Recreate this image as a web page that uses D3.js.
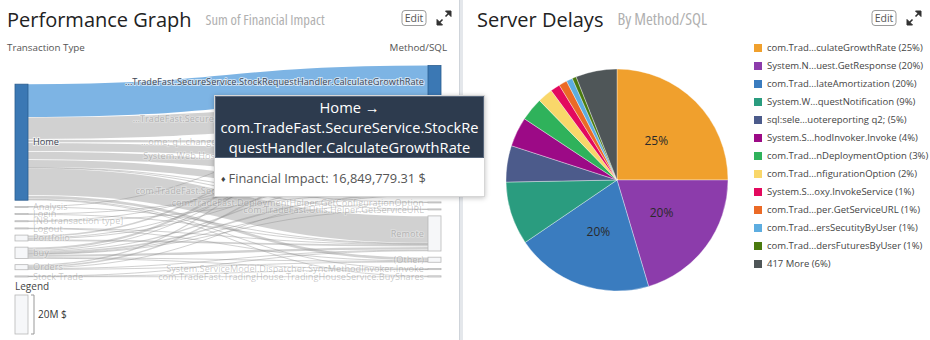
<!DOCTYPE html>
<html>
<head>
<meta charset="utf-8">
<script src="https://cdn.jsdelivr.net/npm/d3@7"></script>
<style>
  html, body { margin: 0; padding: 0; background: #fff; }
  body { width: 930px; height: 340px; position: relative; overflow: hidden; font-family: "Open Sans", sans-serif; }
  svg text { font-family: "Open Sans", sans-serif; }
  .tip { position: absolute; left: 214px; top: 95px; width: 269px; background: #fff;
         border: 1px solid #d6d6d6; box-shadow: 0 1px 5px rgba(0,0,0,0.25); }
  .tip-head { background: #2d3b4e; color: #fff; font-size: 14.7px; line-height: 20px; text-align: center;
              padding: 0 2px; word-break: break-all; border: 1px solid #56657a; }
  .tip-body { padding: 11px 6px 8px; font-size: 12.8px; line-height: 18px; color: #555; }
  .tip-body .dot { font-size: 9px; color: #444; margin-right: 3px; vertical-align: 1px; }
</style>
</head>
<body>
<svg id="chart" width="930" height="340"></svg>
<div class="tip"><div class="tip-head"></div><div class="tip-body"></div></div>
<script>
// ---- sankey data (values in M$) ----
var sourceNames = ["Home", "Analysis", "Login", "[No transaction type]", "Logout",
                   "Portfolio", "buy", "Orders", "Stock Trade"];
var targetNames = [
  "com.TradeFast.SecureService.StockRequestHandler.CalculateGrowthRate",
  "com.TradeFast.SecureService.StockRequestHandler.GetPortfolioHistory",
  "sql:select * from home; q1.change from quote q1 left outer join quotereporting q2;",
  "System.Web.Hosting.PipelineRuntime.ProcessRequestNotification",
  "System.Net.HttpWebRequest.GetResponse",
  "com.TradeFast.SecureService.LoanCalculator.CalculateAmortization",
  "com.TradeFast.DeploymentHelper.GetConfigurationOption",
  "com.TradeFast.Utils.Helper.GetServiceURL",
  "Remote",
  "(Other)",
  "System.ServiceModel.Dispatcher.SyncMethodInvoker.Invoke",
  "com.TradeFast.TradingHouse.TradingHouseService.BuyShares"
];
// [source, target, value]
var flows = [
  [0, 0, 16.84977931], [0, 1, 11.5], [0, 2, 1.6], [0, 3, 4.5], [0, 4, 4.2], [0, 5, 4.0],
  [0, 6, 0.2], [0, 7, 0.2], [0, 8, 14.0], [0, 9, 1.8], [0, 10, 0.35], [0, 11, 0.3],
  [1, 1, 0.2], [1, 8, 0.3],
  [2, 4, 0.3], [2, 8, 0.2],
  [3, 3, 0.2], [3, 5, 0.3],
  [4, 8, 0.3], [4, 9, 0.2],
  [5, 1, 1.2], [5, 3, 0.5], [5, 4, 0.4], [5, 8, 0.9],
  [6, 1, 1.5], [6, 2, 0.4], [6, 4, 0.6], [6, 5, 0.8], [6, 6, 0.2], [6, 7, 0.2], [6, 8, 1.6], [6, 9, 0.3], [6, 10, 0.2],
  [7, 1, 0.6], [7, 3, 0.8], [7, 5, 0.4], [7, 8, 0.5], [7, 9, 0.3],
  [8, 8, 0.2], [8, 10, 0.05], [8, 11, 0.3]
];
var activeFlow = 0;
var legendValue = 20;

// ---- pie data ----
var pieNames = ["com.Trad...culateGrowthRate", "System.N...uest.GetResponse", "com.Trad...lateAmortization",
  "System.W...questNotification", "sql:sele...uotereporting q2;", "System.S...hodInvoker.Invoke",
  "com.Trad...nDeploymentOption", "com.Trad...nfigurationOption", "System.S...oxy.InvokeService",
  "com.Trad...per.GetServiceURL", "com.Trad...ersSecutityByUser", "com.Trad...dersFuturesByUser", "417 More"];
var pieValues = [25, 20.4, 20.1, 9.2, 5.3, 4.3, 3.4, 2.2, 1.4, 1.2, 0.9, 0.6, 6.0];
var pieColors = ["#f0a02d", "#8c3cab", "#3a7cbf", "#2a9c7f", "#4c5b8b", "#9c0a86", "#2fb25b",
  "#f9d76a", "#e3095e", "#eb6a26", "#5dade0", "#4a7a0e", "#4f5658"];

var svg = d3.select("#chart");

// ---- panel chrome ----
svg.append("rect").attr("x", 459).attr("y", 0).attr("width", 4).attr("height", 340).attr("fill", "#e4e7eb");
svg.append("line").attr("x1", 459.5).attr("x2", 459.5).attr("y1", 0).attr("y2", 340).attr("stroke", "#cfd4da");

function header(x0, x1, title, sub, subSize) {
  var t = svg.append("text").attr("x", x0).attr("y", 27).attr("font-size", 20)
      .attr("fill", "#222").text(title);
  var w = t.node().getComputedTextLength();
  svg.append("text").attr("x", x0 + w + 14).attr("y", 25).attr("font-size", subSize)
      .style("font-stretch", "87.5%").attr("fill", "#b0b0b0").text(sub);
  // edit button
  svg.append("rect").attr("x", x1 - 50).attr("y", 10.5).attr("width", 24).attr("height", 15).attr("rx", 3)
      .attr("fill", "#fff").attr("stroke", "#9a9a9a");
  svg.append("text").attr("x", x1 - 38).attr("y", 22).attr("text-anchor", "middle").attr("font-size", 10.5)
      .attr("fill", "#555").text("Edit");
  // expand icon
  var g = svg.append("g").attr("transform", "translate(" + (x1 - 15) + ",11)").attr("fill", "#333").attr("stroke", "#333");
  g.append("path").attr("d", "M14,0 L14,5.5 L8.5,0 Z");
  g.append("line").attr("x1", 12).attr("y1", 2).attr("x2", 8.5).attr("y2", 5.5).attr("stroke-width", 1.6);
  g.append("path").attr("d", "M0,14 L0,8.5 L5.5,14 Z");
  g.append("line").attr("x1", 2).attr("y1", 12).attr("x2", 5.5).attr("y2", 8.5).attr("stroke-width", 1.6);
}
header(7, 452, "Performance Graph", "Sum of Financial Impact", 14.5);
header(477, 922, "Server Delays", "By Method/SQL", 16.5);

svg.append("text").attr("x", 7).attr("y", 51).attr("font-size", 9.8).attr("fill", "#555").text("Transaction Type");
svg.append("text").attr("x", 447).attr("y", 51).attr("text-anchor", "end").attr("font-size", 9.8).attr("fill", "#555").text("Method/SQL");

// ---- sankey layout ----
var k = d3.scaleLinear().domain([0, legendValue]).range([0, 39]);
var pad = 6.2, bottom = 277, nodeW = 13;
var colX = d3.scalePoint().domain(["left", "right"]).range([15, 428]);

function column(names, side, key) {
  var nodes = names.map(function(n, i) {
    return { name: n, i: i, value: d3.sum(flows.filter(function(f) { return f[key] == i; }), function(f) { return f[2]; }) };
  });
  var total = d3.sum(nodes, function(d) { return k(d.value); }) + pad * (nodes.length - 1);
  var y = bottom - total;
  nodes.forEach(function(d) {
    d.x0 = colX(side); d.x1 = d.x0 + nodeW;
    d.y0 = y; d.y1 = y + k(d.value); y = d.y1 + pad;
  });
  return nodes;
}
var left = column(sourceNames, "left", 0);
var right = column(targetNames, "right", 1);

var links = flows.map(function(f, i) {
  return { idx: i, source: left[f[0]], target: right[f[1]], value: f[2], w: k(f[2]) };
});
left.forEach(function(n) {
  var y = n.y0;
  links.filter(function(l) { return l.source === n; })
    .sort(function(a, b) { return a.target.i - b.target.i; })
    .forEach(function(l) { l.sy = y + l.w / 2; y += l.w; });
});
right.forEach(function(n) {
  var y = n.y0;
  links.filter(function(l) { return l.target === n; })
    .sort(function(a, b) { return a.source.i - b.source.i; })
    .forEach(function(l) { l.ty = y + l.w / 2; y += l.w; });
});

var linkPath = d3.linkHorizontal()
  .source(function(d) { return [d.source.x1, d.sy]; })
  .target(function(d) { return [d.target.x0, d.ty]; });

var hot = links[activeFlow];
var gl = svg.append("g").attr("fill", "none");
gl.selectAll("path.lk")
  .data(links.filter(function(l) { return l !== hot; }))
  .enter().append("path")
    .attr("class", "lk")
    .attr("d", linkPath)
    .attr("stroke", "#8c8c8c")
    .attr("stroke-opacity", 0.4)
    .attr("stroke-width", function(d) { return Math.max(1, d.w > 2 ? d.w - 0.8 : d.w); });
gl.append("path").datum(hot).attr("d", linkPath)
  .attr("stroke", "#7db4e4").attr("stroke-width", hot.w);

function isHot(n) { return n === hot.source || n === hot.target; }

var nodes = left.concat(right);
svg.selectAll("rect.node")
  .data(nodes)
  .enter().append("rect")
    .attr("class", "node")
    .attr("x", function(d) { return d.x0; })
    .attr("y", function(d) { return d.y0; })
    .attr("width", nodeW)
    .attr("height", function(d) { return Math.max(1, d.y1 - d.y0); })
    .attr("fill", function(d) { return isHot(d) ? "#3b78b4" : "#f6f7f9"; })
    .attr("stroke", function(d) { return isHot(d) ? "#2a5c8e" : "#b8b8b8"; })
    .attr("stroke-width", 0.8);

function shortName(s) { return s.length > 64 ? "..." + s.slice(-63) : s; }

svg.selectAll("text.nl")
  .data(nodes)
  .enter().append("text")
    .attr("class", "nl")
    .attr("x", function(d) { return d.x0 < 200 ? d.x1 + 5 : d.x0 - 4; })
    .attr("y", function(d) { return (d.y0 + d.y1) / 2; })
    .attr("dy", "0.35em")
    .attr("text-anchor", function(d) { return d.x0 < 200 ? "start" : "end"; })
    .attr("font-size", 9.2)
    .attr("fill", function(d) { return isHot(d) ? "#3d4654" : "#555"; })
    .attr("fill-opacity", function(d) { return isHot(d) ? 1 : 0.33; })
    .style("paint-order", "stroke")
    .attr("stroke", "#fff")
    .attr("stroke-opacity", function(d) { return isHot(d) ? 0.6 : 0.25; })
    .attr("stroke-width", 2)
    .text(function(d) { return shortName(d.name); });

// size legend
svg.append("text").attr("x", 15).attr("y", 290).attr("font-size", 10).attr("fill", "#444").text("Legend");
svg.append("rect").attr("x", 15).attr("y", 295).attr("width", nodeW).attr("height", k(legendValue))
  .attr("fill", "#f6f7f9").attr("stroke", "#b8b8b8").attr("stroke-width", 0.8);
svg.append("path").attr("d", "M31,295 h3 v" + k(legendValue) + " h-3").attr("fill", "none").attr("stroke", "#999");
svg.append("text").attr("x", 38).attr("y", 295 + k(legendValue) / 2).attr("dy", "0.35em")
  .attr("font-size", 10).attr("fill", "#333").text(legendValue + "M $");

// tooltip
var head = d3.select(".tip-head");
head.append("div").text(hot.source.name + " \u2192");
head.append("div").text(hot.target.name);
var body = d3.select(".tip-body");
body.append("span").attr("class", "dot").text("\u2666");
body.append("span").text("Financial Impact: " + d3.format(",.2f")(hot.value * 1e6) + " $");

// ---- pie ----
var cx = 617, cy = 180, R = 111;
var pie = d3.pie().sort(null).value(function(d) { return d; });
var arc = d3.arc().innerRadius(0).outerRadius(R);
var gp = svg.append("g").attr("transform", "translate(" + cx + "," + cy + ")");
var arcs = pie(pieValues);
gp.selectAll("path")
  .data(arcs)
  .enter().append("path")
    .attr("d", arc)
    .attr("fill", function(d, i) { return pieColors[i]; })
    .attr("stroke", "#fff").attr("stroke-opacity", 0.6).attr("stroke-width", 0.6);
gp.selectAll("text")
  .data(arcs.filter(function(d) { return d.value >= 10; }))
  .enter().append("text")
    .attr("transform", function(d) { return "translate(" + arc.centroid(d) + ")"; })
    .attr("text-anchor", "middle").attr("dy", "0.35em")
    .attr("font-size", 12).attr("fill", "#2a2a2a")
    .text(function(d) { return Math.round(d.value) + "%"; });

var lg = svg.append("g");
var row = d3.scaleBand().domain(d3.range(pieNames.length)).range([39, 39 + 18 * pieNames.length]);
lg.selectAll("rect")
  .data(pieNames)
  .enter().append("rect")
    .attr("x", 754).attr("y", function(d, i) { return row(i) + 5; })
    .attr("width", 8).attr("height", 8)
    .attr("fill", function(d, i) { return pieColors[i]; });
lg.selectAll("text")
  .data(pieNames)
  .enter().append("text")
    .attr("x", 767).attr("y", function(d, i) { return row(i) + 9; }).attr("dy", "0.35em")
    .attr("font-size", 9.5).attr("fill", "#444")
    .text(function(d, i) { return d + " (" + Math.round(pieValues[i]) + "%)"; });
</script>
</body>
</html>
